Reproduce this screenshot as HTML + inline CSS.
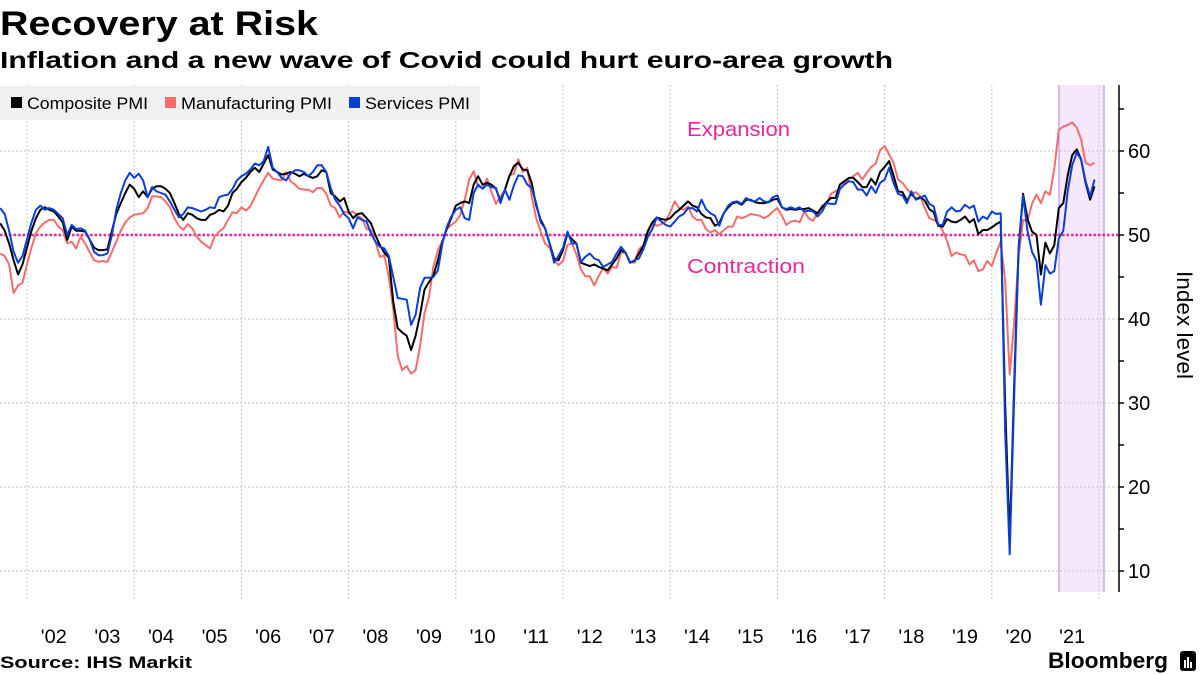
<!DOCTYPE html>
<html><head><meta charset="utf-8"><style>
html,body{margin:0;padding:0;background:#fff;}
svg{display:block;font-family:"Liberation Sans",sans-serif;}
</style></head><body>
<svg id="chart" width="1200" height="675" viewBox="0 0 1200 675">
<text x="0" y="35" font-size="34" font-weight="bold" textLength="318" lengthAdjust="spacingAndGlyphs">Recovery at Risk</text>
<text x="0" y="68" font-size="23" font-weight="bold" textLength="893" lengthAdjust="spacingAndGlyphs">Inflation and a new wave of Covid could hurt euro-area growth</text>
<rect x="1059" y="85" width="45" height="507" fill="#f6e8fc"/>
<line x1="1059" y1="85" x2="1059" y2="592" stroke="#b27ae6" stroke-width="1"/>
<line x1="1104" y1="85" x2="1104" y2="592" stroke="#b27ae6" stroke-width="1"/>
<g id="grid"></g>
<g id="series"></g>
<g id="axis"></g>
<g>
<rect x="0" y="86" width="480" height="34" fill="#f0f0f0"/>
<rect x="11" y="97" width="11" height="11" fill="#000"/>
<text x="27" y="109" font-size="17" textLength="121" lengthAdjust="spacingAndGlyphs">Composite PMI</text>
<rect x="165" y="97" width="11" height="11" fill="#f26d6b"/>
<text x="181" y="109" font-size="17" textLength="151" lengthAdjust="spacingAndGlyphs">Manufacturing PMI</text>
<rect x="349" y="97" width="11" height="11" fill="#0a3fd6"/>
<text x="365" y="109" font-size="17" textLength="105" lengthAdjust="spacingAndGlyphs">Services PMI</text>
</g>
<text x="687" y="136" font-size="20" fill="#e8279b" textLength="103" lengthAdjust="spacingAndGlyphs">Expansion</text>
<text x="687" y="273" font-size="20" fill="#e8279b" textLength="118" lengthAdjust="spacingAndGlyphs">Contraction</text>
<text transform="translate(1177,325) rotate(90)" text-anchor="middle" font-size="22" textLength="108" lengthAdjust="spacingAndGlyphs">Index level</text>
<text x="0" y="668" font-size="17" font-weight="bold" textLength="192" lengthAdjust="spacingAndGlyphs">Source: IHS Markit</text>
<text x="1048" y="668" font-size="22" font-weight="bold" textLength="120" lengthAdjust="spacingAndGlyphs">Bloomberg</text>
<rect x="1180" y="651" width="16" height="20" rx="3" fill="#000"/>
<rect x="1184" y="660" width="2" height="8" fill="#fff"/><rect x="1187" y="657" width="2" height="11" fill="#fff"/><rect x="1190" y="662" width="2" height="6" fill="#fff"/>
</svg>
<script>
// Monthly data, Jun 2001 .. Nov 2021
const startYear = 2001, startMonth = 6;
const composite = [
51.4,50.5,49.0,47.0,45.3,46.5,48.5,50.5,52.0,53.0,53.3,53.0,
52.8,52.2,51.5,49.4,51.0,50.5,50.5,50.4,49.5,48.5,48.2,48.2,
48.3,50.5,52.5,53.8,55.0,56.0,55.5,54.5,55.2,54.5,55.5,55.8,
55.8,55.5,55.0,53.8,52.5,51.8,52.6,52.4,52.0,51.8,51.8,52.4,
52.6,53.0,52.8,53.5,55.0,55.5,56.3,56.8,57.5,58.0,57.5,58.5,
59.5,57.8,57.5,57.2,57.3,57.5,57.3,57.0,57.3,57.0,56.8,57.0,
57.7,57.5,55.0,54.6,54.0,54.4,52.8,52.0,52.5,52.6,52.0,51.4,
50.0,48.8,47.9,47.3,42.0,38.9,38.4,38.0,36.3,38.0,40.5,43.5,
44.4,45.2,47.0,49.2,50.8,52.0,53.5,53.8,54.0,53.8,56.0,57.0,
56.0,56.2,56.0,55.5,54.0,55.4,57.0,58.2,58.6,57.8,57.7,56.2,
53.5,51.8,50.8,49.0,47.2,47.0,48.2,50.2,49.5,49.0,46.7,46.5,
46.3,46.5,46.2,46.0,45.8,46.5,47.2,48.2,47.9,46.7,46.9,47.8,
48.7,50.5,51.5,52.1,51.9,51.8,52.0,52.6,53.0,53.5,54.0,53.5,
53.3,52.5,52.1,52.0,51.1,51.4,52.6,53.3,53.8,53.9,53.6,54.2,
54.2,53.9,53.8,53.8,53.9,54.2,54.3,53.3,53.0,53.1,53.0,53.1,
53.1,53.2,52.9,52.6,53.3,53.9,54.4,54.4,56.0,56.4,56.8,56.8,
56.3,55.7,55.7,56.7,56.0,57.5,58.1,58.8,57.1,55.2,55.1,54.1,
54.9,54.3,54.5,54.1,53.1,52.7,51.1,51.0,51.9,51.6,51.5,51.8,
52.2,51.5,51.9,50.1,50.6,50.6,50.9,51.3,51.6,29.7,13.6,31.9,
48.5,54.9,51.9,50.4,50.0,45.3,49.1,47.8,48.8,53.2,53.8,57.1,
59.5,60.2,59.0,56.2,54.2,55.8];
const manufacturing = [
47.8,47.5,46.5,43.1,44.0,44.3,46.5,48.5,50.2,51.0,51.5,51.8,
51.8,51.0,50.6,49.0,49.2,48.4,49.8,49.0,48.0,47.0,46.8,46.9,
46.8,48.0,49.2,50.5,51.5,52.1,52.4,52.5,52.6,53.2,54.6,54.6,
54.5,54.0,53.3,52.0,51.1,50.6,51.3,50.8,49.8,49.2,48.8,48.4,
49.8,50.4,50.8,51.8,52.7,52.6,53.3,52.9,53.4,54.5,55.6,56.5,
57.4,56.7,56.6,56.5,57.5,56.4,56.0,55.5,55.4,55.4,55.1,55.6,
55.6,54.9,53.5,53.2,52.1,52.8,52.6,52.8,52.3,52.0,50.7,50.6,
49.2,47.4,47.6,45.0,41.1,35.6,33.9,34.4,33.5,33.9,36.8,40.7,
42.6,46.3,48.2,49.3,50.7,51.2,51.6,52.4,54.2,56.6,57.6,55.8,
55.6,56.7,55.1,53.7,54.6,55.3,57.1,57.3,59.0,57.5,58.0,54.6,
52.0,50.4,49.0,48.5,47.1,46.4,46.9,48.8,49.0,47.7,45.9,45.1,
45.1,44.0,45.1,46.1,45.4,46.2,46.1,47.9,47.9,46.8,46.7,48.3,
48.8,50.3,51.4,51.1,51.3,51.6,52.7,54.0,53.2,53.0,53.4,52.2,
51.8,51.8,50.7,50.3,50.6,50.1,50.6,51.0,51.0,52.2,52.0,52.2,
52.5,52.4,52.3,52.0,52.3,52.8,53.2,52.3,51.2,51.6,51.7,51.5,
52.8,52.0,51.7,52.6,53.5,53.7,54.9,55.2,55.4,56.2,56.7,57.0,
57.4,56.6,57.4,58.1,58.5,60.1,60.6,59.6,58.6,56.6,56.2,55.5,
54.9,55.1,54.6,53.2,52.0,51.8,51.4,50.5,49.3,47.5,47.9,47.7,
47.6,46.5,47.0,45.7,45.9,46.9,46.3,47.9,49.2,44.5,33.4,39.4,
47.4,51.8,51.7,53.7,54.8,53.8,55.2,54.8,57.9,62.5,62.9,63.1,
63.4,62.8,61.4,58.6,58.3,58.6];
const services = [
53.2,52.5,50.5,48.0,46.7,47.5,49.5,51.5,53.0,53.5,53.0,53.2,
53.0,52.5,52.0,50.0,51.2,50.7,50.8,50.5,49.5,48.0,47.6,47.6,
47.8,50.0,53.0,55.0,56.5,57.4,56.8,57.3,56.5,54.5,55.7,55.2,
55.0,54.8,54.0,53.0,52.1,52.5,53.3,53.2,53.0,52.8,53.0,53.3,
53.2,54.5,54.7,54.8,55.5,56.5,57.0,57.3,57.8,58.5,58.3,58.8,
60.5,58.0,57.5,56.8,56.5,57.3,57.7,57.7,57.5,57.0,57.5,58.3,
58.3,57.5,55.6,54.2,53.5,52.5,52.0,50.8,52.1,51.8,51.6,50.2,
49.2,48.6,48.4,47.5,45.0,42.5,42.4,42.3,39.3,40.5,43.7,44.9,
44.9,45.0,45.8,49.0,51.0,52.2,53.0,53.3,52.0,51.8,55.0,56.0,
55.5,56.0,55.7,55.6,53.8,55.4,54.2,55.9,57.1,57.0,56.0,55.6,
53.8,51.5,50.8,49.0,46.7,47.5,48.5,50.4,49.0,49.0,46.8,47.4,
47.8,47.2,47.0,46.2,46.5,46.8,47.8,48.6,47.9,46.7,47.0,47.2,
48.3,49.8,50.7,52.1,51.6,51.2,51.0,51.6,52.2,52.5,53.2,53.2,
52.8,54.2,53.1,52.6,52.3,51.1,52.6,53.5,53.9,54.0,53.7,54.4,
54.1,54.0,54.4,54.0,53.9,54.5,54.7,53.3,53.1,53.3,53.1,53.3,
52.8,52.9,52.8,52.2,52.8,53.8,53.7,53.7,55.5,56.0,56.4,56.3,
55.4,55.4,54.7,55.8,55.0,56.2,56.6,58.0,56.2,54.9,54.7,53.8,
55.2,54.2,54.4,54.7,53.7,53.4,51.2,51.2,52.8,53.3,52.8,52.9,
53.6,53.2,53.5,51.6,52.2,51.9,52.8,52.5,52.6,26.4,12.0,30.5,
48.3,54.7,50.5,48.0,46.9,41.7,46.4,45.4,45.7,49.6,50.5,55.2,
58.3,59.8,59.0,56.4,54.6,56.6];
const yTicks = [10,20,30,40,50,60];
const yMinor = [15,25,35,45,55,65];
const xYears = [2002,2003,2004,2005,2006,2007,2008,2009,2010,2011,2012,2013,2014,2015,2016,2017,2018,2019,2020,2021];
const xLabels = ["'02","'03","'04","'05","'06","'07","'08","'09","'10","'11","'12","'13","'14","'15","'16","'17","'18","'19","'20","'21"];
const gridYears = [2002,2004,2006,2008,2010,2012,2014,2016,2018,2020,2022];

const NS='http://www.w3.org/2000/svg';
const PX_PER_YEAR=53.6, X0=27;
function xOfYear(yr){return X0+(yr-2002)*PX_PER_YEAR;}
function xOfIndex(i){const m=startMonth+i;return xOfYear(startYear)+m*PX_PER_YEAR/12;}
function y(v){return 235-(v-50)*8.4;}
function mk(tag,attrs,parent){const e=document.createElementNS(NS,tag);for(const k in attrs)e.setAttribute(k,attrs[k]);parent.appendChild(e);return e;}

const grid=document.getElementById('grid');
yTicks.forEach(v=>{
  const l=mk('line',{x1:0,x2:1118,y1:y(v),y2:y(v),stroke:'#c4c4c4','stroke-width':1,'stroke-dasharray':'2,2'},grid);
  
  
});
gridYears.forEach(yr=>{
  const x=xOfYear(yr);
  const l=mk('line',{x1:x,x2:x,y1:85,y2:600,stroke:'#c4c4c4','stroke-width':1,'stroke-dasharray':'2,2'},grid);
  
  
});
const ref=mk('line',{x1:0,x2:1118,y1:y(50),y2:y(50),stroke:'#e8279b','stroke-width':2.5,'stroke-dasharray':'2.5,2'},grid);



const ser=document.getElementById('series');
function drawLine(arr,color,name){
  const d=arr.map((v,i)=>(i?'L':'M')+xOfIndex(i).toFixed(1)+','+y(v).toFixed(1)).join('');
  const p=mk('path',{d:d,fill:'none',stroke:color,'stroke-width':2,'stroke-linejoin':'round'},ser);
  
  
}
drawLine(manufacturing,'#f26d6b','manufacturing-pmi-line');
drawLine(composite,'#000000','composite-pmi-line');
drawLine(services,'#0a3fd6','services-pmi-line');

const ax=document.getElementById('axis');
const axl=mk('line',{x1:1119,x2:1119,y1:85,y2:592,stroke:'#000','stroke-width':1.5},ax);


yTicks.forEach(v=>{
  const t=mk('line',{x1:1119,x2:1124,y1:y(v),y2:y(v),stroke:'#000','stroke-width':1.5},ax);
  
  
  const tx=mk('text',{x:1128,y:y(v)+7,'font-size':20},ax);
  tx.textContent=String(v);
  
  
});
yMinor.forEach(v=>{
  const t=mk('line',{x1:1119,x2:1124,y1:y(v),y2:y(v),stroke:'#000','stroke-width':1.5},ax);
  
  
});
xYears.forEach((yr,i)=>{
  const tx=mk('text',{x:xOfYear(yr)+PX_PER_YEAR/2,y:643,'font-size':19,'text-anchor':'middle',textLength:26,lengthAdjust:'spacingAndGlyphs'},ax);
  tx.textContent=xLabels[i];
  
  
});
</script>
</body></html>
